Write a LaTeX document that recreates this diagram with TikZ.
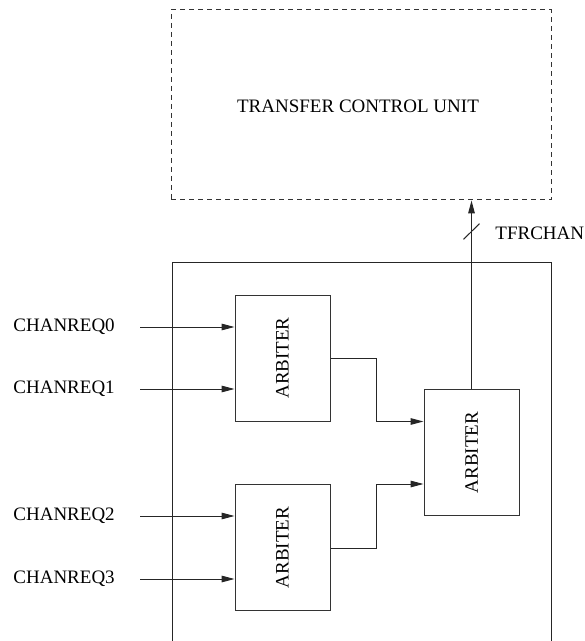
\documentclass[tikz,border=0pt]{standalone}
\usepackage{fontspec}
\setmainfont{Liberation Serif}
\usetikzlibrary{arrows.meta}
\begin{document}
\begin{tikzpicture}[x=0.5pt,y=-0.5pt,
  every node/.style={font=\fontsize{9.5pt}{11pt}\selectfont},
  line/.style={line width=0.5pt, draw=black!85},
  arr/.style={line, -{Triangle[length=6.5pt,width=3.3pt]}},
  arbbox/.style={draw=black!80, line width=0.5pt, minimum width=47.5pt, minimum height=63pt, inner sep=0pt},
  dashbox/.style={draw=black!80, line width=0.5pt, dash pattern=on 2.5pt off 2pt, minimum width=190pt, minimum height=95pt, inner sep=0pt},
  lab/.style={anchor=west, inner sep=0pt}
]
\useasboundingbox (0,0) rectangle (584,641);

% transfer control unit
\node[dashbox] (tcu) at (361,105) {};
\node (tcutext) at (358,106) {TRANSFER CONTROL UNIT};

% outer enclosing box (open at bottom)
\draw[line] (172,641) -- (172,263) -- (551,263) -- (551,641);

% arbiters
\node[arbbox] (arb1) at (282.5,358) {\rotatebox{90}{ARBITER}};
\node[arbbox] (arb2) at (282.5,547.5) {\rotatebox{90}{ARBITER}};
\node[arbbox] (arb3) at (471.5,452.5) {\rotatebox{90}{ARBITER}};

% input labels
\node[lab] (c0) at (13,327) {CHANREQ0};
\node[lab] (c1) at (13,389) {CHANREQ1};
\node[lab] (c2) at (13,516) {CHANREQ2};
\node[lab] (c3) at (13,579) {CHANREQ3};

\coordinate (s0) at (140,327);
\coordinate (s1) at (140,389);
\coordinate (s2) at (140,516);
\coordinate (s3) at (140,579);

\draw[arr] (s0) -- (s0 -| arb1.west);
\draw[arr] (s1) -- (s1 -| arb1.west);
\draw[arr] (s2) -- (s2 -| arb2.west);
\draw[arr] (s3) -- (s3 -| arb2.west);

% arbiter outputs to final arbiter
\coordinate (j1) at (376,358);
\coordinate (j2) at (376,421.5);
\coordinate (k1) at (376,548);
\coordinate (k2) at (376,484);
\draw[arr] (arb1.east |- j1) -- (j1) -- (j2) -- (j2 -| arb3.west);
\draw[arr] (arb2.east |- k1) -- (k1) -- (k2) -- (k2 -| arb3.west);

% output to transfer control unit
\draw[arr] (arb3.north) -- (arb3.north |- tcu.south);
\coordinate (sl) at (471.5,231.5);
\draw[line] ([xshift=-4pt,yshift=-3.9pt]sl) -- ([xshift=4pt,yshift=3.9pt]sl);
\node[lab] (tfr) at (495,233) {TFRCHAN};
\end{tikzpicture}
\end{document}
